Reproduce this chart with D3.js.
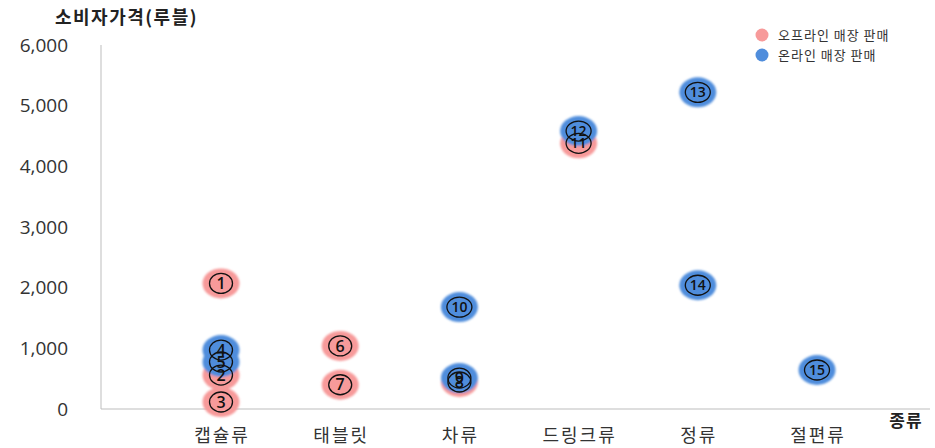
<!DOCTYPE html>
<html><head><meta charset="utf-8">
<script src="https://cdn.jsdelivr.net/npm/d3@7"></script>
<style>body{margin:0;background:#fff}svg{display:block}</style>
</head><body>
<script>
const categories = ["캡슐류","태블릿","차류","드링크류","정류","절편류"];
const yTicks = [0,1000,2000,3000,4000,5000,6000];
const seriesNames = ["오프라인 매장 판매","온라인 매장 판매"];
const offlineIds = [1,2,3,6,7,8,11];
const offlineCats = ["캡슐류","캡슐류","캡슐류","태블릿","태블릿","차류","드링크류"];
const offlineVals = [2070,560,115,1040,400,445,4380];
const onlineIds = [4,5,9,10,12,13,14,15];
const onlineCats = ["캡슐류","캡슐류","차류","차류","드링크류","정류","정류","절편류"];
const onlineVals = [972,775,510,1680,4582,5220,2040,643];
const colors = ["#f79a9a","#4f8ddc"];

const W=935,H=448;
const svg=d3.select("body").append("svg").attr("width",W).attr("height",H);
const defs=svg.append("defs");
defs.append("filter").attr("id","soft").append("feGaussianBlur").attr("stdDeviation",0.8);

const y=d3.scaleLinear().domain([0,6000]).range([409,45]);
const x=d3.scalePoint().domain(categories).range([221,817]);

const font="'Noto Sans CJK KR','Noto Sans',sans-serif";

// axes lines
svg.append("line").attr("x1",101).attr("x2",101).attr("y1",y(6000)).attr("y2",y(0)).attr("stroke","#bdbdbd").attr("stroke-width",1);
svg.append("line").attr("x1",101).attr("x2",930).attr("y1",y(0)).attr("y2",y(0)).attr("stroke","#bdbdbd").attr("stroke-width",1);

// y tick labels
svg.selectAll(".yt").data(yTicks).enter().append("text")
 .attr("x",68).attr("y",d=>y(d)).attr("dy","0.35em").attr("text-anchor","end")
 .attr("font-family","'Open Sans','Noto Sans',sans-serif").attr("font-size",19).attr("fill","#333")
 .text(d=>d3.format(",")(d));

// x labels
svg.selectAll(".xt").data(categories).enter().append("text")
 .attr("x",d=>x(d)+1).attr("y",436).attr("dy","0.35em").attr("text-anchor","middle")
 .attr("font-family",font).attr("font-size",18).attr("letter-spacing",2).attr("fill","#333").text(d=>d);

// titles
svg.append("text").attr("x",55).attr("y",18).attr("dy","0.35em").attr("font-family",font)
 .attr("font-size",18).attr("letter-spacing",1.5).attr("font-weight","bold").attr("fill","#222").text("소비자가격(루블)");
svg.append("text").attr("x",906).attr("y",421).attr("dy","0.35em").attr("text-anchor","middle").attr("font-family",font)
 .attr("font-size",17).attr("letter-spacing",1).attr("font-weight","bold").attr("fill","#222").text("종류");

const pts=[];
offlineIds.forEach((id,i)=>pts.push({id,cat:offlineCats[i],v:offlineVals[i],s:0}));
onlineIds.forEach((id,i)=>pts.push({id,cat:onlineCats[i],v:onlineVals[i],s:1}));

svg.append("g").attr("filter","url(#soft)").selectAll("ellipse").data(pts).enter().append("ellipse")
 .attr("cx",d=>x(d.cat)).attr("cy",d=>y(d.v)).attr("rx",18.5).attr("ry",15)
 .attr("fill",d=>colors[d.s]);

const lab=svg.append("g").selectAll("g").data(pts).enter().append("g")
 .attr("transform",d=>`translate(${x(d.cat)},${y(d.v)})`);
lab.append("ellipse").attr("rx",d=>d.id>=10?12.5:11.5).attr("ry",10).attr("fill","none").attr("stroke","#111").attr("stroke-width",1.3);
lab.append("text").attr("text-anchor","middle").attr("dy","0.36em")
 .attr("font-family","'Open Sans','Noto Sans',sans-serif").attr("font-size",d=>d.id>=10?14:16).attr("font-weight",600)
 .attr("fill","#111").text(d=>d.id);

// legend
const lg=svg.append("g").selectAll("g").data(seriesNames).enter().append("g")
 .attr("transform",(d,i)=>`translate(762,${35+i*20})`);
lg.append("circle").attr("r",6.5).attr("fill",(d,i)=>colors[i]);
lg.append("text").attr("x",16).attr("dy","0.35em").attr("font-family",font).attr("font-size",13).attr("letter-spacing",1).attr("fill","#333").text(d=>d);
</script>
</body></html>
